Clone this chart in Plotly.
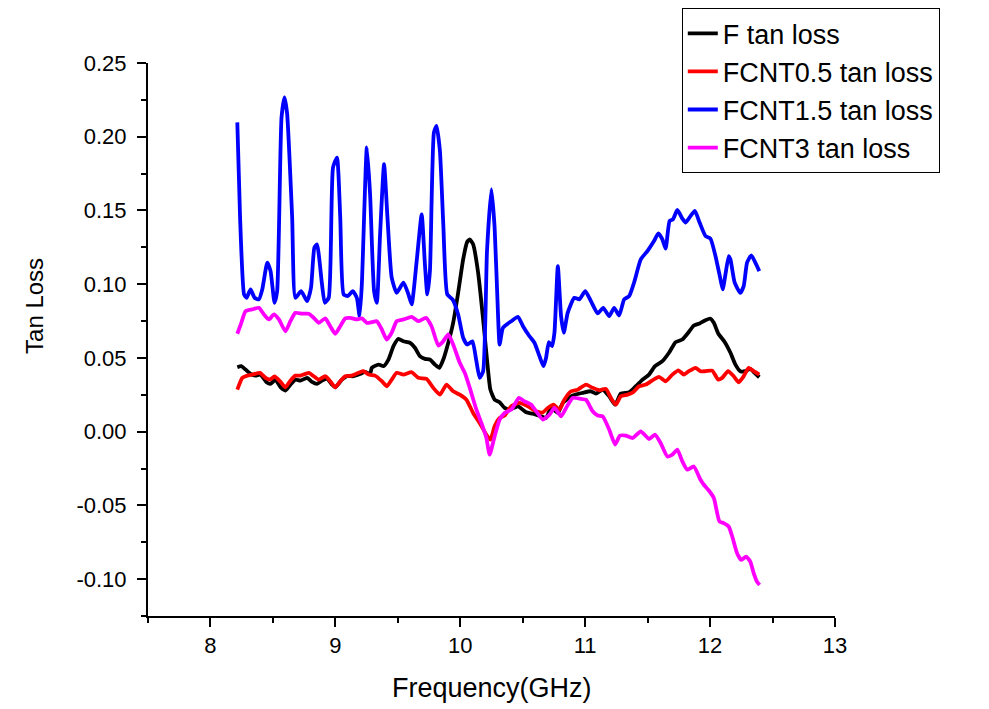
import plotly.graph_objects as go

# F tan loss
freq_F = [8.215, 8.247, 8.281, 8.321, 8.361, 8.401, 8.449, 8.481, 8.521, 8.561, 8.600, 8.640, 8.680, 8.720,
          8.774, 8.813, 8.853, 8.893, 8.933, 8.973, 8.999, 9.053, 9.093, 9.146, 9.199, 9.238, 9.278, 9.292,
          9.345, 9.385, 9.425, 9.465, 9.505, 9.545, 9.597, 9.637, 9.677, 9.717, 9.757, 9.797, 9.832, 9.864,
          9.904, 9.943, 9.983, 10.023, 10.055, 10.076, 10.103, 10.143, 10.183, 10.214, 10.241, 10.275, 10.315,
          10.355, 10.395, 10.462, 10.528, 10.581, 10.648, 10.687, 10.727, 10.781, 10.821, 10.900, 10.980,
          11.046, 11.086, 11.140, 11.192, 11.240, 11.285, 11.352, 11.405, 11.459, 11.511, 11.559, 11.618,
          11.671, 11.724, 11.778, 11.825, 11.870, 11.916, 11.963, 12.003, 12.030, 12.065, 12.118, 12.163,
          12.203, 12.242, 12.282, 12.322, 12.356, 12.394]
tan_F = [0.0437, 0.0444, 0.0421, 0.0392, 0.0380, 0.0387, 0.0335, 0.0324, 0.0353, 0.0301, 0.0279, 0.0319, 0.0353,
         0.0346, 0.0365, 0.0338, 0.0324, 0.0346, 0.0360, 0.0319, 0.0301, 0.0353, 0.0376, 0.0376, 0.0392, 0.0406,
         0.0392, 0.0433, 0.0455, 0.0444, 0.0489, 0.0580, 0.0630, 0.0613, 0.0603, 0.0569, 0.0512, 0.0494, 0.0489,
         0.0455, 0.0433, 0.0489, 0.0603, 0.0738, 0.0942, 0.1168, 0.1286, 0.1304, 0.1270, 0.1078, 0.0761, 0.0489,
         0.0285, 0.0217, 0.0199, 0.0161, 0.0149, 0.0172, 0.0131, 0.0122, 0.0104, 0.0093, 0.0161, 0.0127, 0.0195,
         0.0245, 0.0263, 0.0274, 0.0258, 0.0285, 0.0240, 0.0183, 0.0258, 0.0267, 0.0308, 0.0353, 0.0387, 0.0444,
         0.0478, 0.0535, 0.0607, 0.0625, 0.0671, 0.0720, 0.0734, 0.0756, 0.0766, 0.0738, 0.0666, 0.0607, 0.0535,
         0.0455, 0.0410, 0.0410, 0.0426, 0.0399, 0.0369]

# FCNT0.5 tan loss
freq_05 = [8.215, 8.255, 8.295, 8.335, 8.396, 8.441, 8.476, 8.513, 8.561, 8.600, 8.640, 8.680, 8.720, 8.787,
           8.827, 8.867, 8.919, 8.959, 8.999, 9.039, 9.079, 9.132, 9.186, 9.226, 9.266, 9.318, 9.372, 9.411,
           9.451, 9.491, 9.545, 9.611, 9.664, 9.730, 9.784, 9.837, 9.890, 9.943, 9.996, 10.049, 10.103, 10.155,
           10.209, 10.241, 10.275, 10.315, 10.355, 10.408, 10.474, 10.541, 10.608, 10.661, 10.701, 10.746,
           10.793, 10.833, 10.887, 10.940, 11.006, 11.060, 11.112, 11.166, 11.206, 11.246, 11.285, 11.339,
           11.384, 11.431, 11.485, 11.538, 11.591, 11.644, 11.698, 11.746, 11.790, 11.830, 11.884, 11.923,
           11.963, 12.017, 12.065, 12.097, 12.144, 12.189, 12.229, 12.269, 12.309, 12.349, 12.394]
tan_05 = [0.0285, 0.0365, 0.0380, 0.0387, 0.0399, 0.0365, 0.0353, 0.0374, 0.0338, 0.0301, 0.0346, 0.0380, 0.0380,
          0.0399, 0.0376, 0.0353, 0.0376, 0.0342, 0.0301, 0.0342, 0.0376, 0.0380, 0.0399, 0.0410, 0.0387, 0.0380,
          0.0342, 0.0308, 0.0353, 0.0399, 0.0387, 0.0403, 0.0365, 0.0358, 0.0297, 0.0251, 0.0319, 0.0274, 0.0251,
          0.0217, 0.0127, 0.0059, -0.0020, -0.0054, 0.0036, 0.0093, 0.0109, 0.0172, 0.0195, 0.0172, 0.0138,
          0.0131, 0.0161, 0.0183, 0.0149, 0.0217, 0.0274, 0.0285, 0.0319, 0.0297, 0.0281, 0.0290, 0.0229, 0.0183,
          0.0240, 0.0251, 0.0267, 0.0308, 0.0319, 0.0348, 0.0372, 0.0342, 0.0387, 0.0416, 0.0387, 0.0410, 0.0433,
          0.0410, 0.0410, 0.0414, 0.0353, 0.0365, 0.0410, 0.0376, 0.0335, 0.0376, 0.0433, 0.0410, 0.0387]

# FCNT1.5 tan loss
freq_15 = [8.215, 8.237, 8.269, 8.289, 8.321, 8.353, 8.388, 8.415, 8.455, 8.481, 8.513, 8.534, 8.569, 8.593,
           8.614, 8.654, 8.680, 8.726, 8.774, 8.805, 8.832, 8.853, 8.893, 8.915, 8.947, 8.981, 9.013, 9.039,
           9.066, 9.098, 9.140, 9.172, 9.194, 9.212, 9.252, 9.278, 9.310, 9.332, 9.358, 9.390, 9.417, 9.451,
           9.491, 9.545, 9.585, 9.611, 9.651, 9.691, 9.717, 9.736, 9.757, 9.789, 9.810, 9.837, 9.864, 9.896,
           9.938, 9.983, 10.023, 10.055, 10.097, 10.129, 10.155, 10.183, 10.214, 10.249, 10.275, 10.302,
           10.315, 10.342, 10.408, 10.462, 10.502, 10.554, 10.594, 10.634, 10.666, 10.687, 10.709, 10.735,
           10.754, 10.781, 10.807, 10.829, 10.860, 10.913, 10.953, 11.001, 11.046, 11.100, 11.144, 11.192,
           11.232, 11.272, 11.312, 11.352, 11.391, 11.445, 11.498, 11.551, 11.586, 11.618, 11.644, 11.676,
           11.703, 11.738, 11.778, 11.804, 11.844, 11.878, 11.916, 11.963, 12.003, 12.043, 12.083, 12.101,
           12.123, 12.149, 12.163, 12.197, 12.242, 12.269, 12.296, 12.330, 12.362, 12.394]
tan_15 = [0.2097, 0.1454, 0.0931, 0.0908, 0.0965, 0.0908, 0.0897, 0.0965, 0.1146, 0.1089, 0.0874, 0.0953, 0.2131,
          0.2267, 0.2154, 0.1454, 0.0908, 0.0953, 0.0885, 0.0976, 0.1248, 0.1270, 0.0999, 0.0874, 0.0908, 0.1791,
          0.1859, 0.1454, 0.0931, 0.0919, 0.0953, 0.0908, 0.0783, 0.0999, 0.1927, 0.1610, 0.0953, 0.0874, 0.1338,
          0.1814, 0.1454, 0.1044, 0.0942, 0.1010, 0.0931, 0.0863, 0.1157, 0.1474, 0.1134, 0.0931, 0.1089, 0.2029,
          0.2074, 0.1904, 0.1406, 0.0931, 0.0897, 0.0795, 0.0637, 0.0591, 0.0613, 0.0478, 0.0365, 0.0410, 0.1225,
          0.1644, 0.1384, 0.0795, 0.0591, 0.0704, 0.0749, 0.0779, 0.0715, 0.0647, 0.0603, 0.0512, 0.0444, 0.0501,
          0.0607, 0.0580, 0.0671, 0.1123, 0.0783, 0.0671, 0.0806, 0.0908, 0.0897, 0.0953, 0.0885, 0.0802, 0.0840,
          0.0783, 0.0840, 0.0788, 0.0897, 0.0919, 0.1010, 0.1168, 0.1225, 0.1293, 0.1345, 0.1304, 0.1241, 0.1429,
          0.1440, 0.1503, 0.1445, 0.1418, 0.1463, 0.1497, 0.1418, 0.1327, 0.1309, 0.1191, 0.1033, 0.0965, 0.1067,
          0.1191, 0.1168, 0.1010, 0.0942, 0.0987, 0.1146, 0.1196, 0.1146, 0.1089]

# FCNT3 tan loss
freq_3 = [8.215, 8.247, 8.281, 8.335, 8.388, 8.428, 8.468, 8.508, 8.548, 8.600, 8.640, 8.680, 8.734, 8.787,
          8.827, 8.867, 8.919, 8.959, 8.999, 9.039, 9.079, 9.119, 9.172, 9.212, 9.252, 9.292, 9.332, 9.372,
          9.411, 9.451, 9.491, 9.545, 9.611, 9.664, 9.725, 9.770, 9.824, 9.858, 9.904, 9.943, 9.996, 10.036,
          10.076, 10.129, 10.169, 10.209, 10.235, 10.275, 10.315, 10.355, 10.408, 10.470, 10.514, 10.568,
          10.608, 10.661, 10.714, 10.754, 10.807, 10.847, 10.900, 10.967, 11.006, 11.060, 11.100, 11.140,
          11.192, 11.240, 11.278, 11.325, 11.379, 11.445, 11.511, 11.559, 11.604, 11.658, 11.698, 11.738,
          11.778, 11.817, 11.870, 11.923, 11.950, 11.990, 12.030, 12.075, 12.109, 12.149, 12.181, 12.216,
          12.250, 12.288, 12.322, 12.349, 12.375, 12.396]
tan_3 = [0.0664, 0.0738, 0.0817, 0.0829, 0.0840, 0.0795, 0.0761, 0.0795, 0.0761, 0.0681, 0.0749, 0.0806, 0.0800,
         0.0800, 0.0772, 0.0738, 0.0768, 0.0715, 0.0664, 0.0715, 0.0768, 0.0772, 0.0761, 0.0768, 0.0738, 0.0743,
         0.0749, 0.0693, 0.0625, 0.0671, 0.0749, 0.0761, 0.0779, 0.0749, 0.0772, 0.0715, 0.0584, 0.0607, 0.0659,
         0.0591, 0.0467, 0.0399, 0.0297, 0.0149, 0.0059, -0.0043, -0.0156, -0.0032, 0.0082, 0.0127, 0.0149,
         0.0229, 0.0206, 0.0183, 0.0138, 0.0082, 0.0115, 0.0161, 0.0104, 0.0161, 0.0229, 0.0222, 0.0217, 0.0138,
         0.0109, 0.0104, 0.0014, -0.0088, -0.0027, -0.0027, -0.0043, 0.0002, -0.0050, -0.0020, -0.0077, -0.0168,
         -0.0156, -0.0122, -0.0202, -0.0258, -0.0236, -0.0326, -0.0360, -0.0399, -0.0450, -0.0609, -0.0620,
         -0.0643, -0.0722, -0.0824, -0.0870, -0.0847, -0.0881, -0.0960, -0.1017, -0.1039]

y_ticks = [-0.10, -0.05, 0.00, 0.05, 0.10, 0.15, 0.20, 0.25]
y_ticktext = ["-0.10", "-0.05", "0.00", "0.05", "0.10", "0.15", "0.20", "0.25"]
x_ticks = [8, 9, 10, 11, 12, 13]

series = [
    ("F tan loss", freq_F, tan_F, "#000000"),
    ("FCNT0.5 tan loss", freq_05, tan_05, "#FF0000"),
    ("FCNT1.5 tan loss", freq_15, tan_15, "#0000FF"),
    ("FCNT3 tan loss", freq_3, tan_3, "#FF00FF"),
]

fig = go.Figure()
for name, xs, ys, col in series:
    fig.add_trace(go.Scatter(x=xs, y=ys, mode="lines", name=name,
                             line=dict(color=col, width=3.8, shape="spline", smoothing=0.5)))

FONT = "Liberation Sans, Arial"
axis_font = dict(family=FONT, size=22, color="black")
fig.update_xaxes(range=[7.5, 13], tickvals=x_ticks, showline=True, linecolor="black", linewidth=2,
                 ticks="outside", ticklen=9, tickwidth=2, tickcolor="black", showgrid=False, zeroline=False,
                 tickfont=axis_font,
                 minor=dict(dtick=0.5, ticks="outside", ticklen=5, tickwidth=2, tickcolor="black", showgrid=False))
fig.update_yaxes(range=[-0.125, 0.25], tickvals=y_ticks, ticktext=y_ticktext, showline=True, linecolor="black",
                 linewidth=2, ticks="outside", ticklen=9, tickwidth=2, tickcolor="black", showgrid=False,
                 zeroline=False, tickfont=axis_font, ticklabelstandoff=6,
                 minor=dict(dtick=0.025, tick0=0, ticks="outside", ticklen=5, tickwidth=2, tickcolor="black",
                            showgrid=False))

fig.add_annotation(text="Frequency(GHz)", xref="paper", yref="paper", x=0.5, y=-0.13,
                   xanchor="center", yanchor="middle", showarrow=False,
                   font=dict(family=FONT, size=27, color="black"))
fig.add_annotation(text="Tan Loss", xref="paper", yref="paper", x=-0.165, y=0.56,
                   xanchor="center", yanchor="middle", showarrow=False, textangle=-90,
                   font=dict(family=FONT, size=24, color="black"))

# page has an 8px body margin, so the figure is a bit smaller than the window
fig.update_layout(
    width=981, height=701,
    margin=dict(l=140, r=154, t=55, b=93, autoexpand=False),
    plot_bgcolor="white", paper_bgcolor="white",
    legend=dict(x=0.777, y=1.099, xanchor="left", yanchor="top", bgcolor="white", bordercolor="black",
                borderwidth=1, font=dict(family=FONT, size=27, color="black")),
)

fig.write_html("out.html")
